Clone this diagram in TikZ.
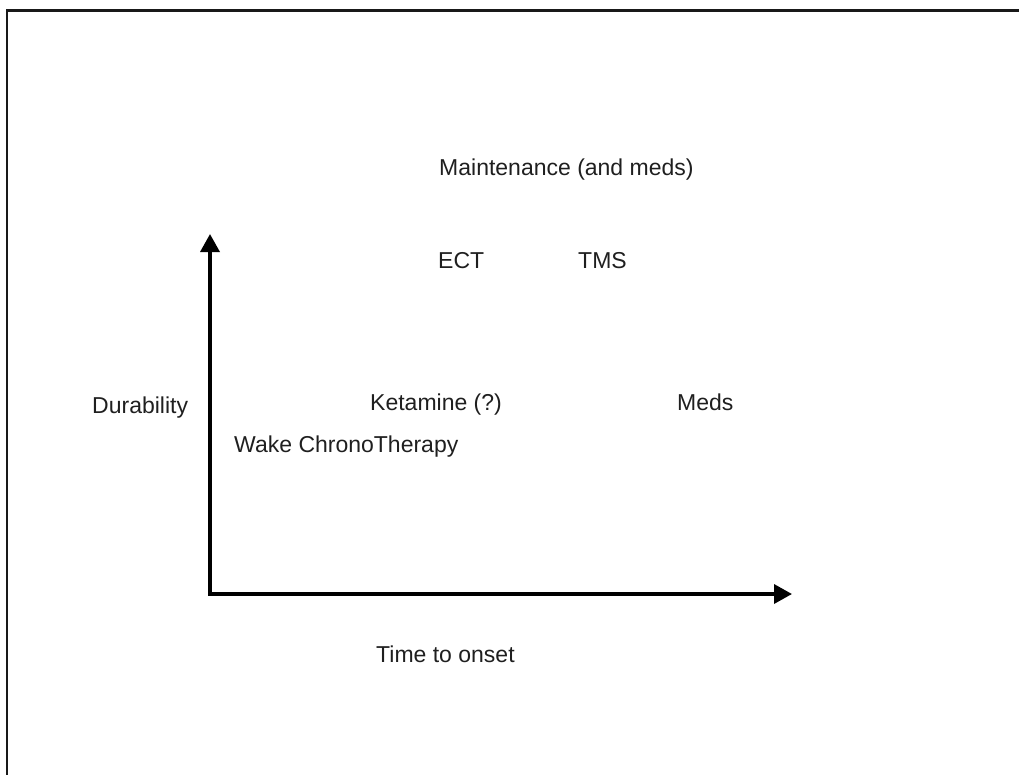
\documentclass[tikz,border=0pt]{standalone}
\usepackage{fontspec}
\setmainfont{Liberation Sans}
\usetikzlibrary{arrows.meta}
\begin{document}
\begin{tikzpicture}[x=1pt,y=-1pt,
  lbl/.style={anchor=base west,inner sep=0pt,font=\fontsize{23}{27}\selectfont,text=black!88},
  axis/.style={line width=3.5pt,line join=miter,{Triangle[width=19pt,length=18pt]}-{Triangle[width=19pt,length=18pt]}},
  frame/.style={line width=2.6pt,color=black!90}]
\useasboundingbox (0,0) rectangle (1019,774);
% frame
\coordinate (fb) at (7,776);
\coordinate (fc) at (7,10.5);
\coordinate (fr) at (1021,10.5);
\draw[frame] (fb) -- (fc) -- (fr);
% axes
\coordinate (ytop) at (210,234);
\coordinate (orig) at (210,594);
\coordinate (xend) at (792,594);
\draw[axis] (ytop) -- (orig) -- (xend);
% labels
\node[lbl] (maint) at (439,175.5) {Maintenance (and meds)};
\node[lbl] (ect) at (438,268) {ECT};
\node[lbl] (tms) at (578,268) {TMS};
\node[lbl] (ket) at (370,410.5) {Ketamine (?)};
\node[lbl] (meds) at (677,410.5) {Meds};
\node[lbl] (wake) at (234,452.5) {Wake ChronoTherapy};
\node[lbl] (dur) at (92,413.5) {Durability};
\node[lbl] (time) at (376,662) {Time to onset};
\end{tikzpicture}
\end{document}
